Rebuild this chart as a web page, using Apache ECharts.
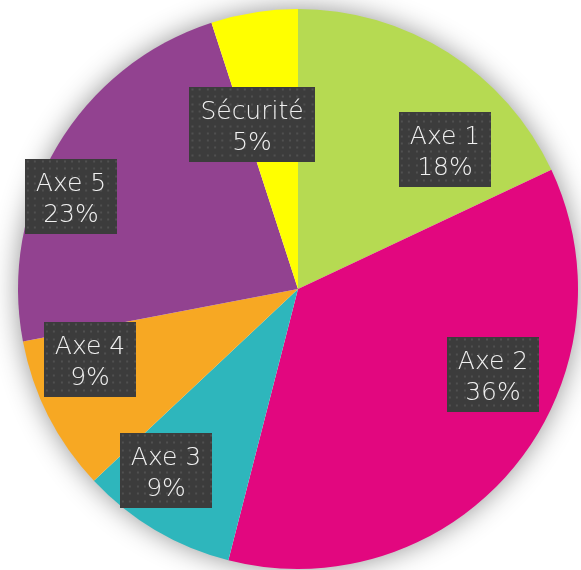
<!DOCTYPE html>
<html>
<head>
<meta charset="utf-8">
<script src="https://cdn.jsdelivr.net/npm/echarts@6/dist/echarts.min.js"></script>
<style>html,body{margin:0;padding:0;background:#fff}#c{width:581px;height:570px}</style>
</head>
<body>
<div id="c"></div>
<script>
// Data
const categories = ['Axe 1', 'Axe 2', 'Axe 3', 'Axe 4', 'Axe 5', 'Sécurité'];
const values = [18, 36, 9, 9, 23, 5];
const colors = ['#b6da52', '#e2077f', '#2eb6bc', '#f7a823', '#924290', '#ffff00'];
// label box centres (layout only)
const labelPos = [[445, 149], [493, 374], [166, 470], [90, 359], [71, 196], [252, 124]];
const boxH = 75;

function dotPattern(w, h) {
  const c = document.createElement('canvas');
  c.width = w; c.height = h;
  const g = c.getContext('2d');
  g.fillStyle = '#3c3c3c';
  g.fillRect(0, 0, w, h);
  g.fillStyle = '#505050';
  for (let y = 2; y < h; y += 7.3) {
    for (let x = 2; x < w; x += 7.3) {
      g.fillRect(Math.round(x), Math.round(y), 2, 2);
    }
  }
  return c.toDataURL();
}

const chart = echarts.init(document.getElementById('c'));
const total = values.reduce((a, b) => a + b, 0);
const data = categories.map((n, i) => ({
  name: n,
  value: values[i],
  itemStyle: { color: colors[i] },
  label: { backgroundColor: { image: dotPattern(n.length > 5 ? 122 : 92, boxH) } }
}));

chart.setOption({
  animation: false,
  series: [
    {
      type: 'pie',
      silent: true,
      center: [298, 289],
      radius: 279,
      label: { show: false },
      data: [{ value: 1, itemStyle: { color: '#fff', shadowBlur: 28, shadowColor: 'rgba(0,0,0,0.45)' } }]
    },
    {
      type: 'pie',
      center: [298, 289],
      radius: 280,
      startAngle: 90,
      clockwise: true,
      itemStyle: { borderWidth: 0 },
      label: {
        show: true,
        position: 'inside',
        formatter: p => p.name + '\n' + Math.round(p.value / total * 100) + '%',
        fontFamily: 'DejaVu Sans',
        fontWeight: 200,
        fontSize: 25,
        lineHeight: 31,
        color: '#f0f0f0',
        align: 'center',
        verticalAlign: 'top',
        padding: [10, 11, 3, 11],
        shadowColor: 'rgba(0,0,0,0.6)',
        shadowBlur: 7,
        shadowOffsetX: 3,
        shadowOffsetY: 4
      },
      labelLine: { show: false },
      labelLayout: p => ({ x: labelPos[p.dataIndex][0], y: labelPos[p.dataIndex][1] - boxH / 2, verticalAlign: 'top', align: 'center' }),
      data: data
    }
  ]
});
</script>
</body>
</html>
